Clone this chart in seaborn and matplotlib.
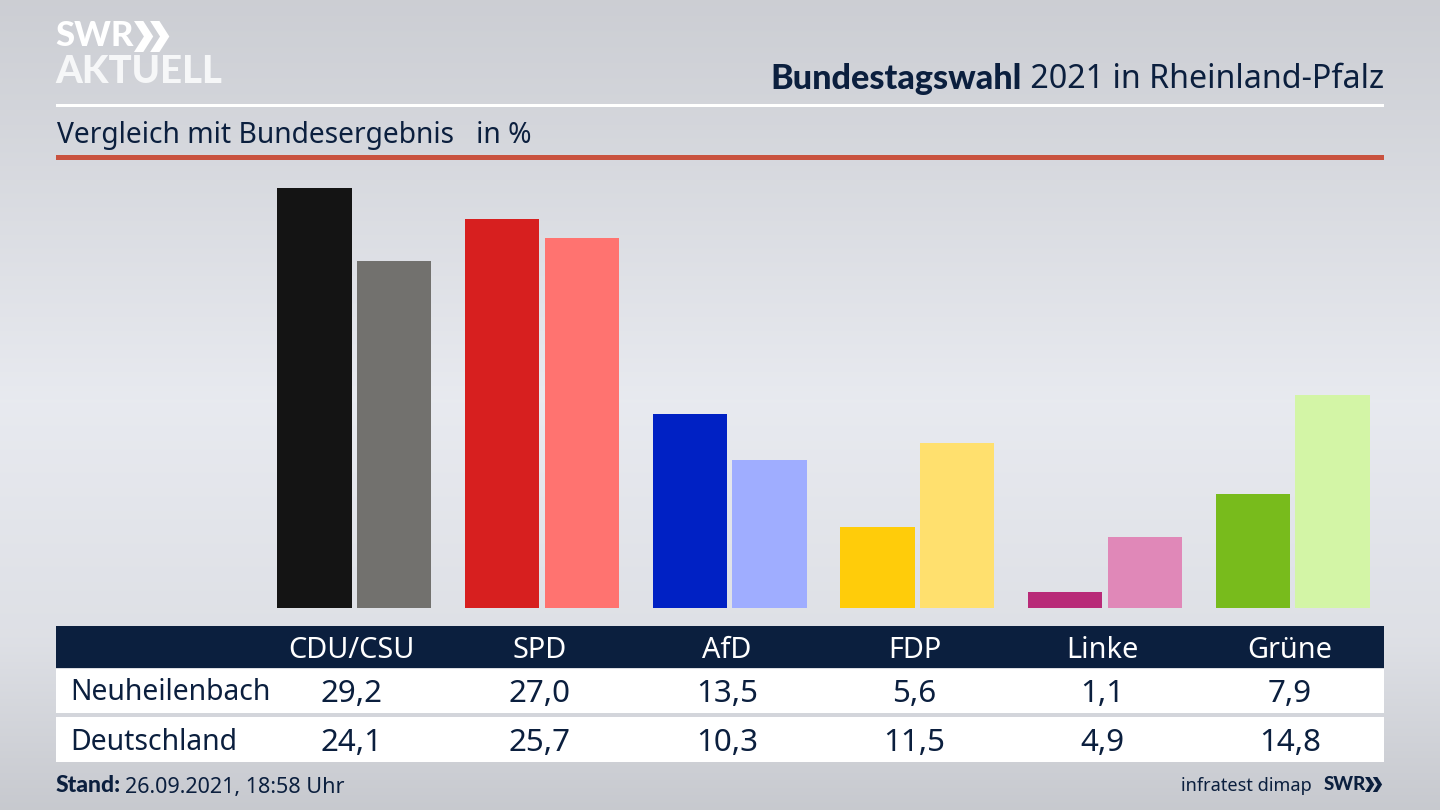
import numpy as np
import pandas as pd
import matplotlib.pyplot as plt
from matplotlib.patches import Rectangle, Polygon
import seaborn as sns

parties = ['CDU/CSU', 'SPD', 'AfD', 'FDP', 'Linke', 'Grüne']
neuheilenbach = [29.2, 27.0, 13.5, 5.6, 1.1, 7.9]
deutschland = [24.1, 25.7, 10.3, 11.5, 4.9, 14.8]
colors_local = ['#141414', '#d71f1f', '#0021c4', '#ffcc0a', '#b82a78', '#78bb1c']
colors_federal = ['#72716e', '#ff7370', '#9fadff', '#ffe06e', '#e088b8', '#d3f5a6']

NAVY = '#0b1f3e'
W, H = 1440, 810

sns.set_theme(style='white')
plt.rcParams['font.family'] = ['Noto Sans', 'DejaVu Sans']

fig = plt.figure(figsize=(14.4, 8.1), dpi=100)

# backdrop, drawn in pixel coordinates
bg = fig.add_axes([0, 0, 1, 1])
bg.set_xlim(0, W)
bg.set_ylim(H, 0)
bg.axis('off')
shade = np.interp(np.arange(H), [0, 120, 400, 640, 810], [0.80, 0.83, 0.91, 0.87, 0.78])
tint = np.stack([shade, shade + 0.008, shade + 0.03], axis=1)[:, None, :]
bg.imshow(np.clip(tint, 0, 1), extent=[0, W, H, 0], aspect='auto', zorder=0)


def band(x0, y0, x1, y1, color):
    bg.add_patch(Rectangle((x0, y0), x1 - x0, y1 - y0, color=color, lw=0, zorder=1))


def chevrons(x, y, h, color):
    # the double arrow of the SWR logo
    for dx in (0, h * 0.52):
        bg.add_patch(Polygon([(x + dx, y), (x + dx + h * 0.3, y), (x + dx + h * 0.62, y + h / 2),
                              (x + dx + h * 0.3, y + h), (x + dx, y + h), (x + dx + h * 0.32, y + h / 2)],
                             color=color, lw=0, zorder=2))


band(56, 104, 1384, 107, 'white')
band(56, 155, 1384, 160, '#c9523f')
band(56, 626, 1384, 668, NAVY)
band(56, 669, 1384, 713, 'white')
band(56, 717, 1384, 762, 'white')

# logo
bg.text(55, 36, 'SWR', color='white', fontsize=25, family='Lato', fontweight='black', va='center', ha='left', zorder=2)
bg.text(55, 72, 'AKTUELL', color='#f6f7f8', fontsize=27.5, family='Lato', fontweight='black', va='center', ha='left', zorder=2)
chevrons(134, 21, 31, 'white')

# title, right aligned with a bold first part
t2 = bg.text(1384, 80, ' 2021 in Rheinland-Pfalz', color=NAVY, fontsize=23.2, va='center', ha='right', zorder=2)
fig.canvas.draw()
box = t2.get_window_extent()
bg.text(box.x0, 79, 'Bundestagswahl', color=NAVY, fontsize=24.6, family='Lato', fontweight='black',
        va='center', ha='right', zorder=2)

bg.text(57, 135, 'Vergleich mit Bundesergebnis   in %', color=NAVY, fontsize=20.3, va='center', ha='left', zorder=2)

# table
bg.text(70, 693, 'Neuheilenbach', color=NAVY, fontsize=20.4, va='center', ha='left', zorder=2)
bg.text(70, 742, 'Deutschland', color=NAVY, fontsize=20.4, va='center', ha='left', zorder=2)
for i, party in enumerate(parties):
    cx = 351.5 + 187.7 * i
    bg.text(cx, 650, party, color='white', fontsize=20.8, va='center', ha='center', zorder=2)
    bg.text(cx, 694, f'{neuheilenbach[i]:.1f}'.replace('.', ','), color=NAVY, fontsize=22.5,
            va='center', ha='center', zorder=2)
    bg.text(cx, 743, f'{deutschland[i]:.1f}'.replace('.', ','), color=NAVY, fontsize=22.5,
            va='center', ha='center', zorder=2)

# footer
s = bg.text(56, 786, 'Stand:', color=NAVY, fontsize=16.5, family='Lato', fontweight='black', va='center', ha='left', zorder=2)
fig.canvas.draw()
bg.text(s.get_window_extent().x1 + 4, 787, '26.09.2021, 18:58 Uhr', color=NAVY, fontsize=15.5,
        va='center', ha='left', zorder=2)
bg.text(1312, 786, 'infratest dimap', color=NAVY, fontsize=13.1, va='center', ha='right', zorder=2)
bg.text(1324, 785, 'SWR', color=NAVY, fontsize=13.5, family='Lato', fontweight='black', va='center', ha='left', zorder=2)
chevrons(1365, 777, 15, NAVY)

# bars
df = pd.DataFrame({
    'Partei': parties * 2,
    'Gebiet': ['Neuheilenbach'] * 6 + ['Deutschland'] * 6,
    'Wert': neuheilenbach + deutschland,
})
ax_left, ax_right, ax_top, ax_bottom = 260.4, 1386.6, 160, 608
ax = fig.add_axes([ax_left / W, 1 - ax_bottom / H, (ax_right - ax_left) / W, (ax_bottom - ax_top) / H])
ax.patch.set_alpha(0)
sns.barplot(data=df, x='Partei', y='Wert', hue='Gebiet', order=parties,
            hue_order=['Neuheilenbach', 'Deutschland'], width=0.8475, gap=0.065,
            legend=False, ax=ax)
for container, cols in zip(ax.containers, [colors_local, colors_federal]):
    for bar, c in zip(container, cols):
        bar.set_facecolor(c)
        bar.set_edgecolor('none')
ax.set_xlim(-0.5, 5.5)
ax.set_ylim(0, (ax_bottom - ax_top) / 14.39)
ax.axis('off')

fig.savefig('out.png', dpi=100)
